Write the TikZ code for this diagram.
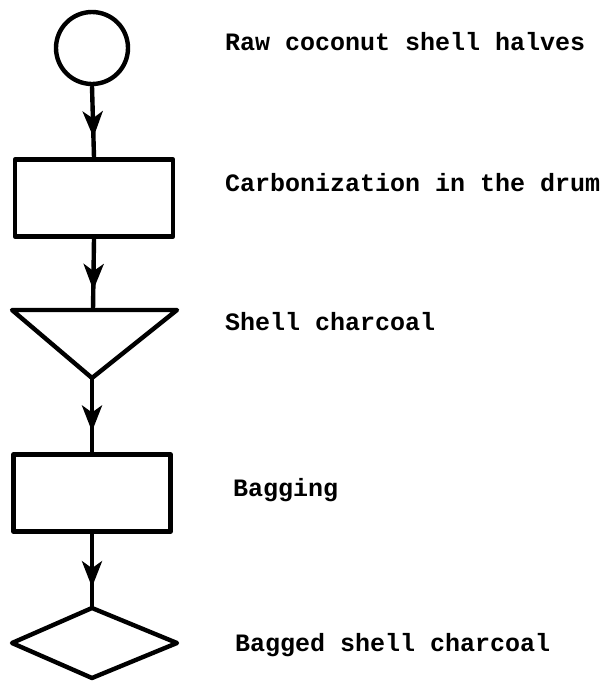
\documentclass[tikz,border=0pt]{standalone}
\usepackage{fontspec}
\setmonofont{Liberation Mono}
\usetikzlibrary{arrows.meta,decorations.markings}
\begin{document}
\begin{tikzpicture}[x=1pt,y=-1pt,
  shapeline/.style={line width=4.4pt,line join=round},
  flow/.style={line width=4.4pt,postaction={decorate},
    decoration={markings,mark=at position 0.72 with {\arrow{Stealth[length=26pt,width=20pt,inset=7pt]}}}},
  lbl/.style={anchor=base west,inner sep=0pt,font=\ttfamily\bfseries\fontsize{25}{28}\selectfont}]
\useasboundingbox (0,0) rectangle (616,681);
% shapes
\node[shapeline,draw,circle,minimum size=72pt,inner sep=0pt] (raw) at (92,48) {};
\node[shapeline,draw,rectangle,minimum width=158pt,minimum height=77pt,inner sep=0pt] (carb) at (94,198) {};
\draw[shapeline] (12,310) -- (177,310) -- (92,378) -- cycle;
\coordinate (chtop) at (93,310);
\coordinate (chbot) at (92,378);
\node[shapeline,draw,rectangle,minimum width=157pt,minimum height=77pt,inner sep=0pt] (bag) at (92,493) {};
\draw[shapeline] (92,608) -- (177,643) -- (92,678) -- (12,643) -- cycle;
\coordinate (bgtop) at (92,608);
% connectors
\draw[flow] (raw.south) -- (carb.north);
\draw[flow] (carb.south) -- (chtop);
\draw[flow] (chbot) -- (bag.north);
\draw[flow] (bag.south) -- (bgtop);
% labels
\node[lbl] (t1) at (225,50) {Raw coconut shell halves};
\node[lbl] (t2) at (225,191) {Carbonization in the drum};
\node[lbl] (t3) at (225,330) {Shell charcoal};
\node[lbl] (t4) at (233,496) {Bagging};
\node[lbl] (t5) at (235,651) {Bagged shell charcoal};
\end{tikzpicture}
\end{document}
